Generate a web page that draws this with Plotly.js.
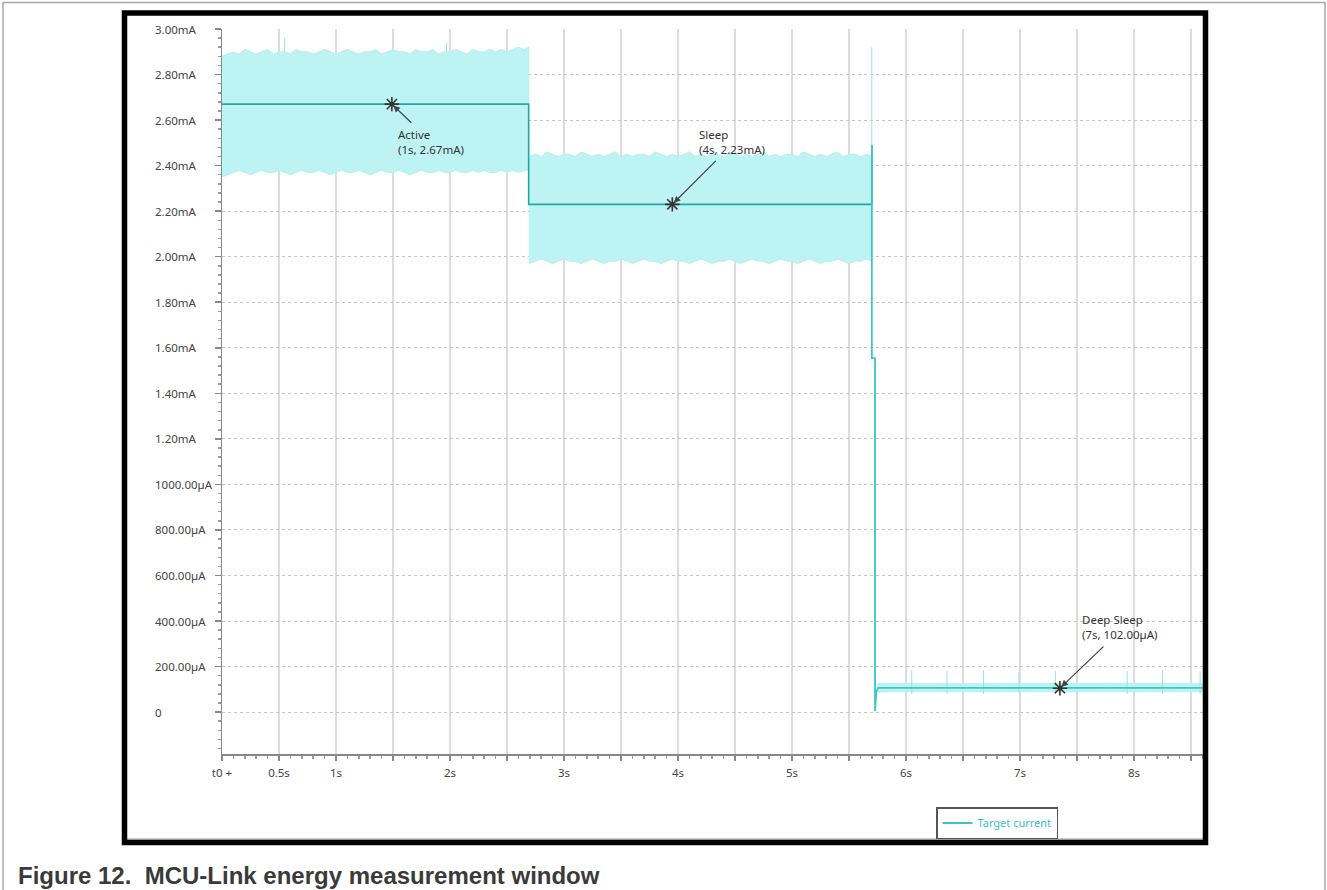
<!DOCTYPE html>
<html>
<head>
<meta charset="utf-8">
<script src="https://cdn.plot.ly/plotly-3.0.1.min.js"></script>
<style>
  html, body { margin: 0; padding: 0; background: #ffffff; }
  #chart { width: 1327px; height: 890px; }
</style>
</head>
<body>
<div id="chart"></div>
<script>
// ---------- data (time in s, current in mA) ----------
// Active phase noise envelope
const activeT  = [0.00,0.05,0.10,0.15,0.20,0.25,0.30,0.35,0.40,0.45, 0.50,0.55,0.60,0.65,0.70,0.75,0.80,0.85,0.90,0.95, 1.00,1.05,1.10,1.15,1.20,1.25,1.30,1.35,1.40,1.45, 1.50,1.55,1.60,1.65,1.70,1.75,1.80,1.85,1.90,1.95, 2.00,2.05,2.10,2.15,2.20,2.25,2.30,2.35,2.40,2.45, 2.50,2.55,2.60,2.65,2.69];
const activeHi = [2.88,2.89,2.90,2.89,2.91,2.90,2.89,2.90,2.91,2.89, 2.90,2.90,2.89,2.91,2.90,2.90,2.89,2.90,2.91,2.90, 2.89,2.90,2.91,2.90,2.89,2.90,2.90,2.91,2.89,2.90, 2.91,2.90,2.90,2.89,2.91,2.90,2.90,2.91,2.89,2.90, 2.90,2.91,2.90,2.89,2.91,2.90,2.90,2.91,2.90,2.91, 2.90,2.91,2.92,2.91,2.92];
const activeLo = [2.35,2.36,2.37,2.38,2.37,2.36,2.37,2.38,2.37,2.37, 2.38,2.37,2.36,2.37,2.38,2.37,2.37,2.38,2.37,2.36, 2.37,2.38,2.37,2.37,2.38,2.37,2.36,2.37,2.38,2.37, 2.37,2.38,2.37,2.36,2.37,2.38,2.37,2.37,2.38,2.37, 2.37,2.38,2.37,2.37,2.38,2.37,2.38,2.37,2.37,2.38, 2.37,2.38,2.37,2.38,2.38];
// Sleep phase noise envelope
const sleepT  = [2.69,2.75,2.80,2.85,2.90,2.95,3.00,3.05,3.10,3.15, 3.20,3.25,3.30,3.35,3.40,3.45,3.50,3.55,3.60,3.65, 3.70,3.75,3.80,3.85,3.90,3.95,4.00,4.05,4.10,4.15, 4.20,4.25,4.30,4.35,4.40,4.45,4.50,4.55,4.60,4.65, 4.70,4.75,4.80,4.85,4.90,4.95,5.00,5.05,5.10,5.15, 5.20,5.25,5.30,5.35,5.40,5.45,5.50,5.55,5.60,5.65, 5.70];
const sleepHi = [2.44,2.45,2.44,2.46,2.45,2.44,2.45,2.45,2.44,2.46, 2.45,2.44,2.45,2.44,2.45,2.46,2.44,2.45,2.44,2.45, 2.45,2.44,2.46,2.45,2.44,2.45,2.44,2.45,2.46,2.44, 2.45,2.44,2.45,2.45,2.44,2.46,2.45,2.44,2.45,2.44, 2.45,2.46,2.44,2.45,2.44,2.45,2.45,2.44,2.46,2.45, 2.44,2.45,2.44,2.45,2.46,2.44,2.45,2.45,2.44,2.45, 2.44];
const sleepLo = [1.97,1.98,1.99,1.98,1.97,1.98,1.99,1.98,1.98,1.97, 1.98,1.99,1.98,1.97,1.98,1.98,1.99,1.98,1.97,1.98, 1.99,1.98,1.98,1.97,1.98,1.99,1.98,1.98,1.97,1.98, 1.99,1.98,1.97,1.98,1.98,1.99,1.98,1.97,1.98,1.99, 1.98,1.98,1.97,1.98,1.99,1.98,1.98,1.97,1.98,1.99, 1.98,1.97,1.98,1.98,1.99,1.98,1.97,1.98,1.98,1.99, 1.98];
// Deep sleep phase noise envelope
const deepT  = [5.75, 6.00, 6.30, 6.60, 6.90, 7.20, 7.50, 7.80, 8.10, 8.40, 8.61];
const deepHi = [0.125, 0.124, 0.126, 0.124, 0.125, 0.124, 0.125, 0.126, 0.124, 0.125, 0.125];
const deepLo = [0.088, 0.090, 0.089, 0.090, 0.089, 0.090, 0.089, 0.090, 0.089, 0.090, 0.089];
// Averaged current trace (active + sleep)
const meanT = [0.00, 2.69, 2.69, 5.70, 5.70];
const meanI = [2.67, 2.67, 2.23, 2.23, 2.49];
// Transition and deep sleep trace
const dropT = [5.70, 5.70, 5.728, 5.728, 5.74, 5.754, 8.61];
const dropI = [2.49, 1.555, 1.555, 0.005, 0.09, 0.106, 0.106];
// Isolated spikes (start, peak)
const spikeT = [0.55, 0.55, null, 1.97, 1.97, null, 5.70, 5.70, null, 6.05, 6.05, null, 6.36, 6.36, null, 6.68, 6.68, null, 6.99, 6.99, null, 7.31, 7.31, null, 7.94, 7.94, null, 8.25, 8.25, null, 8.58, 8.58];
const spikeI = [2.90, 2.96, null, 2.90, 2.94, null, 2.45, 2.92, null, 0.08, 0.185, null, 0.08, 0.18, null, 0.08, 0.185, null, 0.085, 0.175, null, 0.08, 0.18, null, 0.08, 0.18, null, 0.08, 0.185, null, 0.08, 0.18];
// Marker points and labels
const markerT = [1.49, 3.95, 7.35];
const markerI = [2.67, 2.23, 0.105];
const markerName = ['Active', 'Sleep', 'Deep Sleep'];
const markerText = ['(1s, 2.67mA)', '(4s, 2.23mA)', '(7s, 102.00\u00b5A)'];
// Axis ticks
const xTickVals = [0, 0.5, 1, 1.5, 2, 2.5, 3, 3.5, 4, 4.5, 5, 5.5, 6, 6.5, 7, 7.5, 8, 8.5];
const xTickText = ['t0 +', '0.5s', '1s', '', '2s', '', '3s', '', '4s', '', '5s', '', '6s', '', '7s', '', '8s', ''];
const yTickVals = [0, 0.2, 0.4, 0.6, 0.8, 1.0, 1.2, 1.4, 1.6, 1.8, 2.0, 2.2, 2.4, 2.6, 2.8, 3.0];
const yTickText = ['0', '200.00\u00b5A', '400.00\u00b5A', '600.00\u00b5A', '800.00\u00b5A', '1000.00\u00b5A', '1.20mA', '1.40mA', '1.60mA', '1.80mA', '2.00mA', '2.20mA', '2.40mA', '2.60mA', '2.80mA', '3.00mA'];
const seriesName = 'Target current';
const caption = 'Figure 12.&nbsp;&nbsp;MCU-Link energy measurement window';

// ---------- layout geometry (pixels) ----------
const PL = 222, PR = 1203, PT = 29, PB = 754;
const W = PR - PL, H = PB - PT;
const px = x => (x - PL) / W;
const py = y => (PB - y) / H;

function band(t, hi, lo) {
  return {
    x: t.concat(t.slice().reverse()),
    y: hi.concat(lo.slice().reverse())
  };
}
const bandColor = 'rgb(190,243,243)';
const bands = [band(activeT, activeHi, activeLo), band(sleepT, sleepHi, sleepLo), band(deepT, deepHi, deepLo)];
const traces = bands.map(b => ({
  x: b.x, y: b.y, type: 'scatter', mode: 'lines', fill: 'toself',
  fillcolor: bandColor, line: {color: 'rgb(182,239,239)', width: 1},
  showlegend: false, hoverinfo: 'skip'
}));
traces.push({
  x: spikeT, y: spikeI, type: 'scatter', mode: 'lines',
  line: {color: 'rgb(150,228,228)', width: 1}, showlegend: false, hoverinfo: 'skip'
});
traces.push({
  x: meanT, y: meanI, type: 'scatter', mode: 'lines',
  line: {color: 'rgb(30,168,168)', width: 1.6}, showlegend: false
});
traces.push({
  x: dropT, y: dropI, type: 'scatter', mode: 'lines', name: seriesName,
  line: {color: 'rgb(60,198,198)', width: 1.8}, showlegend: true
});
traces.push({
  x: markerT, y: markerI, type: 'scatter', mode: 'markers',
  marker: {symbol: 'asterisk-open', size: 12, color: '#333', line: {color: '#333', width: 1.6}},
  showlegend: false
});

// annotations
const annotations = [];
// y tick labels (left aligned as in the reference)
yTickVals.forEach((v, i) => {
  annotations.push({
    xref: 'paper', yref: 'y', x: px(153), y: v, text: yTickText[i],
    xanchor: 'left', yanchor: 'middle', showarrow: false,
    font: {family: 'Noto Sans, Open Sans, sans-serif', size: 11.5, color: '#444'}
  });
});
// arrows and label texts (pixel offsets relative to the marked point)
const arrowOff = [[21, 20], [45, -45], [45, -43]];
const textShift = [[4, -38], [25, 62], [20, 61]];
markerT.forEach((t, i) => {
  annotations.push({
    xref: 'x', yref: 'y', x: t, y: markerI[i], text: '', showarrow: true,
    ax: arrowOff[i][0], ay: arrowOff[i][1], arrowhead: 2, arrowsize: 1.1,
    arrowwidth: 1.2, arrowcolor: '#444', standoff: 2
  });
  annotations.push({
    xref: 'x', yref: 'y', x: t, y: markerI[i],
    xshift: textShift[i][0], yshift: textShift[i][1],
    text: markerName[i] + '<br>' + markerText[i], align: 'left',
    xanchor: 'left', yanchor: 'middle', showarrow: false,
    font: {family: 'Noto Sans, Open Sans, sans-serif', size: 11.5, color: '#333'}
  });
});
// caption
annotations.push({
  xref: 'paper', yref: 'paper', x: px(16), y: py(875), text: '<b>' + caption + '</b>',
  xanchor: 'left', yanchor: 'middle', showarrow: false,
  font: {family: 'Liberation Sans, Arial, sans-serif', size: 24, color: '#3a3a3a'}
});

const shapes = [
  // outer grey border
  {type: 'line', xref: 'paper', yref: 'paper', x0: px(3), x1: px(3), y0: py(2), y1: py(890), line: {color: '#a8a8a8', width: 1.5}},
  {type: 'line', xref: 'paper', yref: 'paper', x0: px(1325), x1: px(1325), y0: py(2), y1: py(890), line: {color: '#a8a8a8', width: 1.5}},
  {type: 'line', xref: 'paper', yref: 'paper', x0: px(3), x1: px(1325), y0: py(2.5), y1: py(2.5), line: {color: '#a8a8a8', width: 1.5}},
  // thin grey line at bottom inside frame
  {type: 'line', xref: 'paper', yref: 'paper', x0: px(127), x1: px(1203), y0: py(839), y1: py(839), line: {color: '#9a9a9a', width: 1}},
  // black window frame
  {type: 'rect', xref: 'paper', yref: 'paper', x0: px(124.5), x1: px(1205.5), y0: py(13), y1: py(842.5), line: {color: '#000', width: 5.5}, fillcolor: 'rgba(0,0,0,0)'}
];

const layout = {
  width: 1327, height: 890, autosize: false,
  margin: {l: PL, r: 1327 - PR, t: PT, b: 890 - PB, pad: 0},
  paper_bgcolor: '#ffffff', plot_bgcolor: '#ffffff',
  showlegend: true,
  legend: {
    x: px(936), y: py(807), xanchor: 'left', yanchor: 'top',
    bordercolor: '#555', borderwidth: 1.5, bgcolor: '#ffffff',
    font: {family: 'Noto Sans, Open Sans, sans-serif', size: 11, color: 'rgb(50,196,196)'},
    itemwidth: 30, tracegroupgap: 0
  },
  xaxis: {
    range: [0, 8.605], tickmode: 'array', tickvals: xTickVals, ticktext: xTickText,
    ticks: 'outside', ticklen: 5, tickwidth: 1.5, tickcolor: '#888',
    showline: true, linecolor: '#888', linewidth: 1.5,
    showgrid: true, gridcolor: '#dcdcdc', gridwidth: 2, zeroline: false,
    minor: {tickmode: 'linear', tick0: 0, dtick: 0.1, ticks: 'outside', ticklen: 3, tickcolor: '#999', showgrid: false},
    tickfont: {family: 'Noto Sans, Open Sans, sans-serif', size: 11.5, color: '#444'},
    ticklabelstandoff: 3, fixedrange: true
  },
  yaxis: {
    range: [-0.184, 3.0], tickmode: 'array', tickvals: yTickVals, showticklabels: false,
    ticks: 'outside', ticklen: 6, tickwidth: 1.5, tickcolor: '#888',
    showline: true, linecolor: '#888', linewidth: 1.5,
    showgrid: true, gridcolor: '#c4c4c4', gridwidth: 1, griddash: 'dot', zeroline: false,
    minor: {tickmode: 'linear', tick0: 0, dtick: 0.04, ticks: 'outside', ticklen: 3, tickcolor: '#999', showgrid: false},
    fixedrange: true
  },
  annotations: annotations,
  shapes: shapes
};

Plotly.newPlot('chart', traces, layout, {displayModeBar: false, staticPlot: true});
</script>
</body>
</html>
